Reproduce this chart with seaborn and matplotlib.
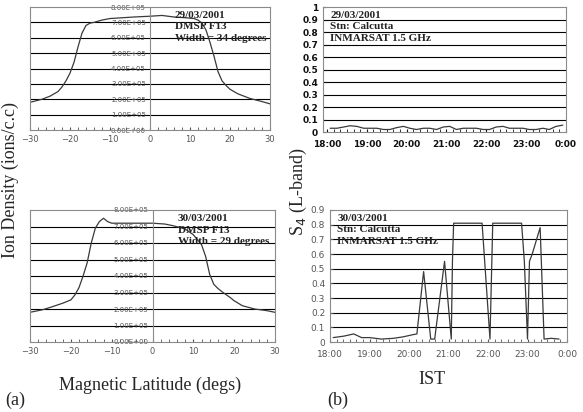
import numpy as np
import pandas as pd
import seaborn as sns
import matplotlib.pyplot as plt
from matplotlib.ticker import MultipleLocator, FormatStrFormatter

# --- DMSP F13 ion density vs magnetic latitude ---
lat_29 = [-30, -27, -25, -23, -22, -21, -20, -19, -18, -17, -16, -15, -14, -12, -10, -7, -4,
          0, 3, 6, 9, 11, 12, 13, 14, 15, 16, 17, 18, 19, 20, 22, 25, 28, 30]
dens_29 = [1.80e5, 2.00e5, 2.20e5, 2.50e5, 2.80e5, 3.20e5, 3.70e5, 4.40e5, 5.40e5, 6.30e5, 6.80e5,
           6.95e5, 7.00e5, 7.15e5, 7.25e5, 7.30e5, 7.35e5, 7.40e5, 7.45e5, 7.35e5, 7.30e5, 7.25e5,
           7.15e5, 6.95e5, 6.50e5, 5.70e5, 4.80e5, 3.80e5, 3.20e5, 2.90e5, 2.65e5, 2.35e5, 2.05e5,
           1.85e5, 1.70e5]

lat_30 = [-30, -27, -25, -22, -20, -19, -18, -17, -16, -15, -14, -13, -12, -11, -10, -7, -4,
          0, 3, 5, 8, 10, 11, 12, 13, 14, 15, 16, 17, 19, 20, 22, 25, 28, 30]
dens_30 = [1.80e5, 1.95e5, 2.10e5, 2.35e5, 2.55e5, 2.85e5, 3.30e5, 4.00e5, 4.80e5, 6.00e5, 6.90e5,
           7.30e5, 7.50e5, 7.30e5, 7.20e5, 7.20e5, 7.20e5, 7.20e5, 7.15e5, 7.05e5, 6.85e5, 6.50e5,
           6.20e5, 5.90e5, 5.20e5, 4.10e5, 3.50e5, 3.25e5, 3.05e5, 2.70e5, 2.50e5, 2.20e5, 2.00e5,
           1.90e5, 1.80e5]

# --- S4 at 1.5 GHz, Calcutta (time in decimal hours IST) ---
t_29 = [18.08, 18.25, 18.42, 18.58, 18.75, 18.92, 19.08, 19.25, 19.42, 19.58, 19.75, 19.92,
        20.08, 20.25, 20.42, 20.58, 20.75, 20.92, 21.08, 21.25, 21.42, 21.58, 21.75, 21.92,
        22.08, 22.25, 22.42, 22.58, 22.75, 22.92, 23.08, 23.25, 23.42, 23.58, 23.75, 23.92]
s4_29 = [0.03, 0.03, 0.04, 0.05, 0.045, 0.03, 0.03, 0.03, 0.02, 0.02, 0.035, 0.045,
         0.03, 0.02, 0.03, 0.03, 0.02, 0.04, 0.045, 0.02, 0.03, 0.03, 0.03, 0.02,
         0.02, 0.04, 0.045, 0.03, 0.03, 0.03, 0.02, 0.02, 0.03, 0.02, 0.045, 0.055]

t_30 = [18.08, 18.35, 18.6, 18.8, 19.0, 19.3, 19.6, 19.85, 20.1, 20.2, 20.37, 20.55, 20.65,
        20.9, 21.07, 21.1, 21.13, 21.3, 21.6, 21.85, 22.05, 22.12, 22.4, 22.7, 22.85, 22.92,
        23.0, 23.05, 23.12, 23.32, 23.42, 23.6, 23.8]
s4_30 = [0.03, 0.04, 0.055, 0.03, 0.03, 0.02, 0.025, 0.035, 0.05, 0.055, 0.48, 0.02, 0.02,
         0.55, 0.02, 0.55, 0.81, 0.81, 0.81, 0.81, 0.02, 0.81, 0.81, 0.81, 0.81, 0.55,
         0.02, 0.55, 0.6, 0.78, 0.02, 0.025, 0.02]

time_ticks = [18, 19, 20, 21, 22, 23, 24]
time_labels = ['18:00', '19:00', '20:00', '21:00', '22:00', '23:00', '0:00']

sns.set_style('white')
plt.rcParams['font.family'] = ['Liberation Serif', 'DejaVu Serif']

W, H = 583, 412
fig = plt.figure(figsize=(W / 100, H / 100), dpi=100)


def px_axes(x0, y0, x1, y1):
    # box given in pixels from top-left corner
    return fig.add_axes([x0 / W, 1 - y1 / H, (x1 - x0) / W, (y1 - y0) / H])


def frame(ax):
    for s in ['top', 'right', 'bottom', 'left']:
        ax.spines[s].set_color('#8a8a8a')
        ax.spines[s].set_linewidth(0.8)
    ax.grid(False)


def density_panel(ax, lat, dens, note):
    df = pd.DataFrame({'lat': lat, 'dens': dens})
    sns.lineplot(data=df, x='lat', y='dens', ax=ax, color='#3a3a3a', lw=0.9)
    ax.set_xlim(-30, 30)
    ax.set_ylim(0, 8e5)
    frame(ax)
    for v in np.arange(1e5, 8e5, 1e5):
        ax.axhline(v, color='black', lw=0.8, zorder=0)
    ax.axvline(0, color='#8a8a8a', lw=0.8)
    ax.set_yticks(np.arange(0, 8.01e5, 1e5))
    ax.yaxis.set_major_formatter(FormatStrFormatter('%.2E'))
    ax.tick_params(axis='y', labelsize=5, colors='#555555', length=2, pad=1)
    for lab in ax.get_yticklabels():
        lab.set_fontfamily('DejaVu Sans')
    # y labels sit beside the zero-latitude line
    ax.yaxis.set_tick_params(which='both', left=False)
    for lab in ax.get_yticklabels():
        lab.set_x(0.5)
    ax.set_xticks(range(-30, 31, 10))
    ax.xaxis.set_minor_locator(MultipleLocator(2))
    ax.tick_params(axis='x', which='both', direction='in', length=2, labelsize=6,
                   colors='#555555', bottom=True)
    for lab in ax.get_xticklabels():
        lab.set_fontfamily('DejaVu Sans')
    ax.set_xlabel('')
    ax.set_ylabel('')
    ax.text(6.2, 7.75e5, note, fontsize=8, fontweight='bold', va='top', ha='left',
            linespacing=1.35, color='#222222')


def s4_panel(ax, t, s4, ymax, note, bold):
    df = pd.DataFrame({'t': t, 's4': s4})
    sns.lineplot(data=df, x='t', y='s4', ax=ax, color='#3a3a3a', lw=0.9)
    ax.set_ylim(0, ymax)
    frame(ax)
    yt = np.round(np.arange(0, ymax + 0.001, 0.1), 1)
    for v in yt[1:-1]:
        ax.axhline(v, color='black', lw=0.8, zorder=0)
    ax.set_yticks(yt)
    ax.set_yticklabels(['0' if v == 0 else ('1' if v == 1 else f'{v:.1f}') for v in yt])
    ax.set_xticks(time_ticks)
    ax.set_xticklabels(time_labels)
    ax.xaxis.set_minor_locator(MultipleLocator(1 / 6))
    w = 'bold' if bold else 'normal'
    c = '#111111' if bold else '#555555'
    ax.tick_params(axis='both', which='both', direction='in', length=2, labelsize=6.5,
                   colors=c, bottom=True, left=True)
    ax.tick_params(axis='x', pad=6)
    for lab in ax.get_xticklabels() + ax.get_yticklabels():
        lab.set_fontfamily('DejaVu Sans')
        lab.set_fontweight(w)
    ax.set_xlabel('')
    ax.set_ylabel('')
    ax.text(0.03, 0.97, note, transform=ax.transAxes, fontsize=8, fontweight='bold',
            va='top', ha='left', linespacing=1.35, color='#222222')


ax1 = px_axes(30, 7, 270, 130)
density_panel(ax1, lat_29, dens_29, '29/03/2001\nDMSP F13\nWidth = 34 degrees')

ax3 = px_axes(30, 210, 275, 342)
density_panel(ax3, lat_30, dens_30, '30/03/2001\nDMSP F13\nWidth = 29 degrees')

ax2 = px_axes(323, 7, 566, 132)
s4_panel(ax2, t_29, s4_29, 1.0, '29/03/2001\nStn: Calcutta\nINMARSAT 1.5 GHz', True)
ax2.set_xlim(17.9, 24)

ax4 = px_axes(330, 210, 567, 342)
s4_panel(ax4, t_30, s4_30, 0.9, '30/03/2001\nStn: Calcutta\nINMARSAT 1.5 GHz', False)
ax4.set_xlim(18, 24)

# shared axis titles and panel tags
fig.text(10 / W, 1 - 180 / H, 'Ion Density (ions/c.c)', rotation=90, fontsize=13,
         ha='center', va='center')
fig.text(150 / W, 1 - 385 / H, 'Magnetic Latitude (degs)', fontsize=13, ha='center', va='center')
fig.text(15 / W, 1 - 400 / H, '(a)', fontsize=13, ha='center', va='center')
fig.text(298 / W, 1 - 192 / H, 'S$_4$ (L-band)', rotation=90, fontsize=13,
         ha='center', va='center')
fig.text(432 / W, 1 - 380 / H, 'IST', fontsize=13, ha='center', va='center')
fig.text(338 / W, 1 - 400 / H, '(b)', fontsize=13, ha='center', va='center')

fig.savefig('out.png', dpi=100)
